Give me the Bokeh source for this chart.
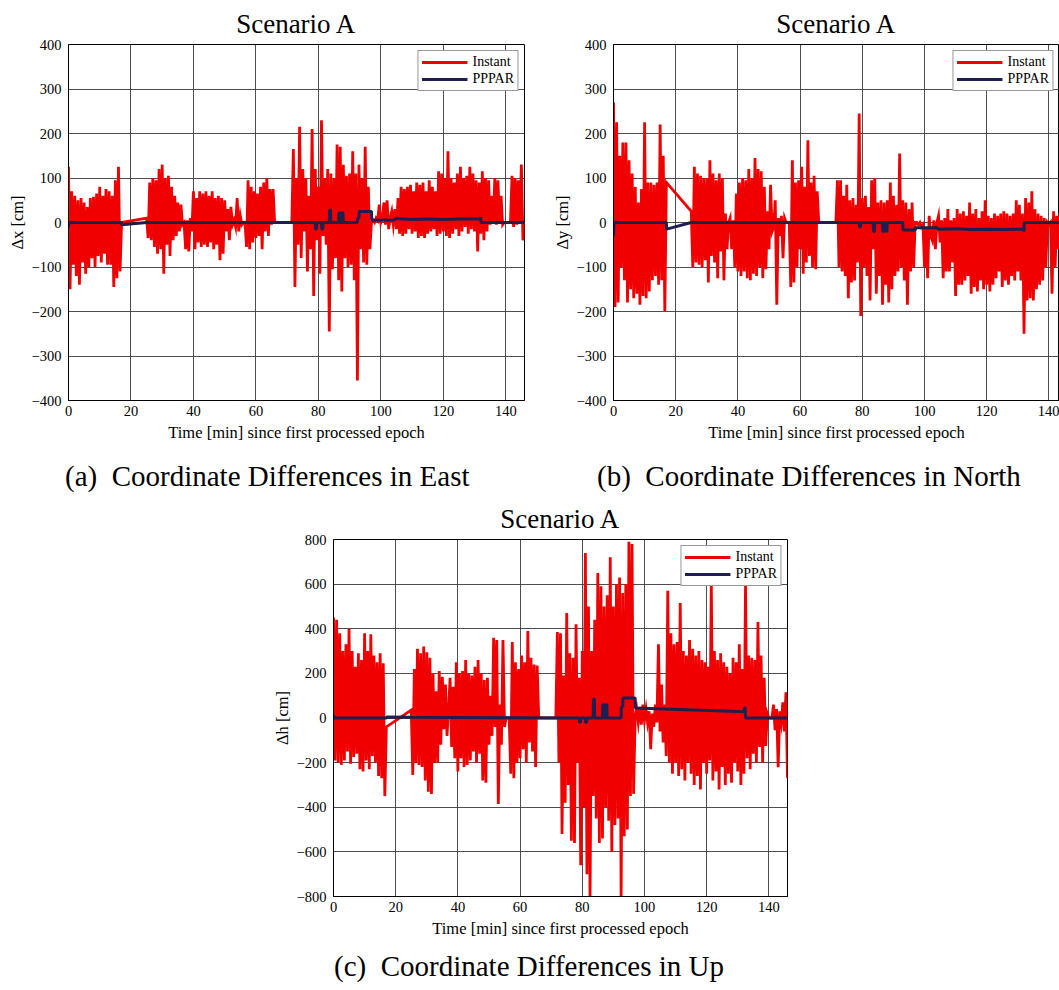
from bokeh.plotting import figure
from bokeh.layouts import column, row
from bokeh.models import (Range1d, FixedTicker, Legend, LegendItem, Div, Spacer)
from bokeh.embed import file_html
from bokeh.resources import INLINE

# ---------------- data ----------------
EPOCH_MIN = 0.5          # sampling interval of the listed epochs [min]
TITLE = "Scenario A"
X_LABEL = "Time [min] since first processed epoch"
X_TICKS = [0, 20, 40, 60, 80, 100, 120, 140]
Y_TICKS_EN = [-400, -300, -200, -100, 0, 100, 200, 300, 400]
Y_TICKS_UP = [-800, -600, -400, -200, 0, 200, 400, 600, 800]
SERIES = ["Instant", "PPPAR"]
CAPTIONS = ["(a)  Coordinate Differences in East",
            "(b)  Coordinate Differences in North",
            "(c)  Coordinate Differences in Up"]

# ---- East (dx) Instant, segments of epochs: start time, values [cm]
east_starts = [0, 25, 37.5, 56.5, 71.5, 97.5]
east_s1 = [125, -150, 70, -95, 60, -120, 50, -140, 55, -90, 45, -115, 35, -100, 55, -80, 58, -100,
           65, -75, 80, -90, 60, -70, 75, -95, 70, -95, 60, -145, 95, -125, 125, -110, 0]
east_s2 = [10, -35, 90, -40, 100, -55, 95, -70, 120, -60, 130, -115, 100, -50, 105, -75, 80, -40,
           60, -30, 45, -20, 40, -5, 0]
east_s3 = [-60, 5, -65, 10, -20, 70, -60, 55, -45, 70, -55, 65, -50, 70, -55, 60, -45, 70, -60,
           55, -50, 60, -85, 55, -70, 50, -20, 30, -40, 35, -5, 5, -10, 55, -20, 15, -5, 0]
east_s4 = [0, -55, 95, -60, 80, -45, 70, -35, 65, -30, 80, -60, 90, -20, 100, -30, 75, -5, 75, 0]
east_s5 = [0, 165, -145, 100, -50, 215, -80, 120, -20, 100, -110, 60, -60, 210, -165, 120, -40, 80,
           -115, 230, -30, 100, -50, 120, -245, 110, -105, 100, -80, 175, -130, 170, -155, 130, -80,
           105, -100, 110, -95, 160, -130, 110, -355, 130, -60, 100, -90, 170, -95, 80, -60, 0]
east_s6 = [5, 0, 10, 5, 40, 0, 10, 45, -5, 50, -15, 10, 25, -5, 30, -15, 55, -25, 80, -30, 75, -25,
           80, -15, 85, -25, 70, -20, 90, -35, 85, -30, 90, -35, 70, -25, 95, -20, 80, -15, 70, -30,
           115, -25, 110, -20, 100, -30, 160, -35, 100, -25, 90, -15, 110, -30, 125, -20, 100, -10,
           105, -25, 125, -15, 110, -20, 95, -65, 90, -25, 115, -40, 100, -20, 95, -5, 60, 0, 100,
           -5, 95, 0, 60, -5, 0, 0, 0, 0, 0, 105, -10, 100, -5, 95, 0, 130, -40, 0]
east_ppp_t = [0, 0.2, 17, 17.1, 25, 79, 79.1, 79.4, 79.5, 81, 81.1, 81.4, 81.5, 83.5, 83.6, 83.9,
              84, 86.5, 86.6, 86.9, 87, 87.5, 87.6, 87.9, 88, 92.5, 92.6, 93, 93.1, 97, 97.1, 104,
              105, 110, 115, 120, 125, 131.8, 132, 132.1, 146]
east_ppp_v = [-10, 0, 0, -5, 0, 0, -15, -15, 0, 0, -15, -15, 0, 0, 28, 28, 0, 0, 22, 22, 0, 0,
              22, 22, 0, 0, 10, 10, 25, 25, 5, 5, 9, 7, 8, 7, 8, 8, 12, 0, 0]

# ---- North (dy) Instant
north_starts = [0, 25, 37.5, 56.5, 71.5, 97.5]
north_s1 = [270, -190, 225, -180, 150, -100, 180, -130, 180, -180, 140, -150, 110, -170, 80, -160,
            45, -185, 75, -165, 225, -170, 90, -155, 90, -130, 85, -120, 90, -140, 220, -130, 150,
            -200, 90]
north_s2 = [25, -100, 125, -90, 110, -95, 105, -100, 100, -85, 100, -135, 140, -75, 110, -90, 95,
            -125, 110, -65, 100, -130, 20, -60, 0]
north_s3 = [10, -60, 5, -100, 65, -110, 90, -120, 100, -110, 95, -125, 120, -130, 100, -115, 145,
            -120, 120, -100, 115, -125, 80, -105, 25, -60, 85, -20, -10, 50, -185, 10, -30, 15,
            -80, 10, 0, 0]
north_s4 = [0, -145, 140, -135, 90, -100, 95, -60, 125, -115, 80, -90, 185, -75, 90, -100, 105,
            -105, 70, 0]
north_s5 = [0, 95, -100, 95, -110, 60, -120, 85, -170, 50, -135, 55, -130, 40, -90, 245, -210, 55,
            -100, 60, -120, 35, -175, 95, -60, 100, -160, 45, -120, 50, -185, 45, -140, 50, -180,
            90, -150, 60, -120, 40, -110, 155, -100, 50, -130, 45, -185, 30, -110, 45, -100, 0]
north_s6 = [0, -5, 0, -10, -5, -100, -10, -125, 15, -30, -40, 5, -60, 0, 15, -45, 5, -125, 10,
            -110, 30, -110, 5, -90, 10, -165, 30, -140, 20, -140, 25, -130, 15, -120, 45, -160, 20,
            -145, 30, -155, 10, -130, 25, -150, 50, -140, 15, -155, 10, -140, 20, -125, 15, -110,
            20, -145, 25, -130, 20, -140, 15, -120, 20, -130, 50, -110, 40, -130, 20, -250, 55,
            -175, 45, -170, 70, -175, 30, -150, 20, -140, 15, -130, 10, -100, 0, -5, 0, -160, 25,
            -100, 15, -60, 20]
north_ppp_t = [0, 0.2, 17, 17.1, 25, 79, 79.1, 79.4, 79.5, 83.5, 83.6, 83.9, 84, 86.5, 86.6, 86.9,
               87, 87.5, 87.6, 87.9, 88, 93, 93.1, 97, 97.1, 104, 104.5, 110, 115, 120, 125, 131.8,
               132, 132.1, 146]
north_ppp_v = [-30, 0, 0, -15, 0, 0, -10, -10, 0, 0, -20, -20, 0, 0, -20, -20, 0, 0, -20, -20, 0,
               0, -17, -17, -12, -12, -15, -14, -16, -15, -16, -15, -20, 0, 0]

# ---- Up (dh) Instant
up_starts = [0, 25, 37.5, 56.5, 71.5, 97.5]
up_s1 = [450, -190, 440, -200, 380, -210, 300, -190, 330, -150, 400, -205, 300, -175, 230, -160,
         290, -230, 260, -240, 380, -190, 300, -230, 375, -170, 280, -200, 250, -260, 290, -270,
         245, -350, -40]
up_s2 = [35, -255, 220, -200, 310, -210, 290, -220, 320, -280, 295, -330, 270, -340, 200, -200,
         120, -200, 210, -120, 185, -50, 150, -80, 40]
up_s3 = [180, -130, 140, -180, 250, -240, 200, -180, 210, -220, 260, -210, 200, -190, 190, -150,
         230, -200, 260, -160, 200, -280, 170, -290, 180, -120, 100, -80, 360, -40, 350, -385, 60,
         -120, 350, -40, 0, 0]
up_s4 = [0, -250, 340, -270, 250, -200, 220, -180, 280, -140, 250, -200, 390, -110, 270, -150, 240,
         -220, 235, 0]
up_s5 = [0, 385, -200, 380, -520, 190, -380, 470, -300, 290, -550, 270, -560, 420, -200, 180, -660,
         300, -400, 740, -700, 500, -820, 300, -350, 440, -450, 650, -560, 590, -540, 500, -400,
         550, -460, 720, -600, 500, -480, 600, -450, 630, -820, 560, -530, 600, -500, 790, -350,
         780, -340, 0]
up_s6 = [40, -20, 50, -30, 60, -10, 40, -20, 30, -140, 20, -40, 60, -20, 330, -60, 150, -110, 60,
         -170, 570, -200, 380, -250, 330, -200, 340, -260, 515, -230, 300, -280, 280, -200, 350,
         -250, 310, -300, 280, -260, 300, -320, 260, -200, 250, -250, 230, -190, 605, -280, 300,
         -240, 260, -320, 290, -220, 250, -300, 230, -250, 200, -290, 270, -200, 250, -240, 330,
         -300, 220, -250, 600, -180, 280, -230, 270, -160, 260, -200, 430, -130, 280, -200, 180,
         -125, 20, 0, 0, 0, 60, -55, 40, -220, 30, -20, 70, -60, 115, -270]
up_ppp_t = [0, 0.2, 17, 17.1, 25, 79, 79.1, 79.4, 79.5, 81, 81.1, 81.4, 81.5, 83.5, 83.6, 83.9,
            84, 86.5, 86.6, 86.9, 87, 87.5, 87.6, 87.9, 88, 92.5, 92.6, 93, 93.1, 97, 97.1, 132,
            132.1, 132.4, 132.5, 146]
up_ppp_v = [15, 0, 0, 5, 3, 0, -20, -20, 0, 0, -20, -20, 0, 0, 85, 85, 0, 0, 60, 60, 0, 0, 60,
            60, 0, 0, 50, 50, 90, 90, 45, 28, 45, 45, 0, 0]

# ---------------- styling ----------------
RED = "#f00000"
NAVY = "#1e1f50"
SERIF = "Liberation Serif"


def epochs(starts, segments):
    t, v = [], []
    for s, seg in zip(starts, segments):
        for i, val in enumerate(seg):
            t.append(s + EPOCH_MIN * i)
            v.append(val)
    return t, v


def minus(v):
    return ("\u2212" + str(abs(v))) if v < 0 else str(v)


def panel(t, v, pt, pv, ylabel, yticks, x_end, width, height, ml, mr, mt, mb, title_offset):
    p = figure(width=width, height=height, output_backend="svg", toolbar_location=None,
               x_range=Range1d(0, x_end), y_range=Range1d(yticks[0], yticks[-1]),
               min_border_left=ml, min_border_right=mr, min_border_top=mt, min_border_bottom=mb,
               title=TITLE)
    p.title.text_font = SERIF
    p.title.text_font_size = "27px"
    p.title.text_font_style = "normal"
    p.title.align = "center"
    p.title.standoff = 12
    p.title.offset = title_offset
    p.title.text_color = "black"
    p.background_fill_color = "white"
    p.border_fill_color = "white"
    p.outline_line_color = "black"
    p.outline_line_width = 1
    p.outline_line_alpha = 1

    r1 = p.line(t, v, color=RED, line_width=2.8, line_join="miter")
    r2 = p.line(pt, pv, color=NAVY, line_width=3)

    p.xaxis.ticker = FixedTicker(ticks=X_TICKS)
    p.yaxis.ticker = FixedTicker(ticks=yticks)
    p.yaxis.major_label_overrides = {k: minus(k) for k in yticks}
    for ax in (p.xaxis[0], p.yaxis[0]):
        ax.major_tick_in = 0
        ax.major_tick_out = 0
        ax.minor_tick_in = 0
        ax.minor_tick_out = 0
        ax.axis_line_color = "black"
        ax.major_label_text_font = SERIF
        ax.major_label_text_font_size = "14.5px"
        ax.major_label_text_color = "black"
        ax.axis_label_text_font = SERIF
        ax.axis_label_text_font_size = "16.5px"
        ax.axis_label_text_font_style = "normal"
        ax.axis_label_text_color = "black"
    p.xaxis.major_label_standoff = 5
    p.yaxis.major_label_standoff = 7
    p.xaxis.axis_label = X_LABEL
    p.yaxis.axis_label = ylabel
    p.xaxis.axis_label_standoff = 4
    p.yaxis.axis_label_standoff = 2
    p.grid.grid_line_color = "#3c3c3c"
    p.grid.grid_line_width = 1
    p.grid.grid_line_alpha = 0.9

    leg = Legend(items=[LegendItem(label=SERIES[0], renderers=[r1]),
                        LegendItem(label=SERIES[1], renderers=[r2])],
                 location="top_right")
    leg.label_text_font = SERIF
    leg.label_text_font_size = "14px"
    leg.label_text_color = "black"
    leg.glyph_width = 46
    leg.glyph_height = 16
    leg.label_height = 16
    leg.label_standoff = 5
    leg.spacing = 1
    leg.padding = 3
    leg.margin = 6
    leg.border_line_color = "#333333"
    leg.border_line_width = 1
    leg.background_fill_color = "white"
    leg.background_fill_alpha = 1
    p.add_layout(leg)
    return p


et, ev = epochs(east_starts, [east_s1, east_s2, east_s3, east_s4, east_s5, east_s6])
nt, nv = epochs(north_starts, [north_s1, north_s2, north_s3, north_s4, north_s5, north_s6])
ut, uv = epochs(up_starts, [up_s1, up_s2, up_s3, up_s4, up_s5, up_s6])

pa = panel(et, ev, east_ppp_t, east_ppp_v, "\u0394x [cm]", Y_TICKS_EN, 146,
           549, 450, 68, 25, 44, 50, -5)
pb = panel(nt, nv, north_ppp_t, north_ppp_v, "\u0394y [cm]", Y_TICKS_EN, 143.4,
           510, 450, 62, 0, 44, 50, -8)
pc = panel(ut, uv, up_ppp_t, up_ppp_v, "\u0394h [cm]", Y_TICKS_UP, 146,
           531, 452, 67, 10, 45, 50, -7)


def caption(text, width, height, pad, shift):
    html = ('<div style="font-family:\'Liberation Serif\',serif;font-size:29px;color:black;'
            'white-space:pre;line-height:%dpx;padding-left:%dpx;position:relative;top:%dpx;">%s</div>'
            % (height, pad, shift, text))
    return Div(text=html, width=width, height=height, margin=0)


cap_a = caption(CAPTIONS[0], 549, 44, 65, 4)
cap_b = caption(CAPTIONS[1], 510, 44, 48, 4)
cap_c = caption(CAPTIONS[2], 1059, 40, 334, 0)

page = column(row(pa, pb), row(cap_a, cap_b),
              row(Spacer(width=266, height=452, margin=0), pc), cap_c)

open("out.html", "w").write(file_html(page, INLINE))
